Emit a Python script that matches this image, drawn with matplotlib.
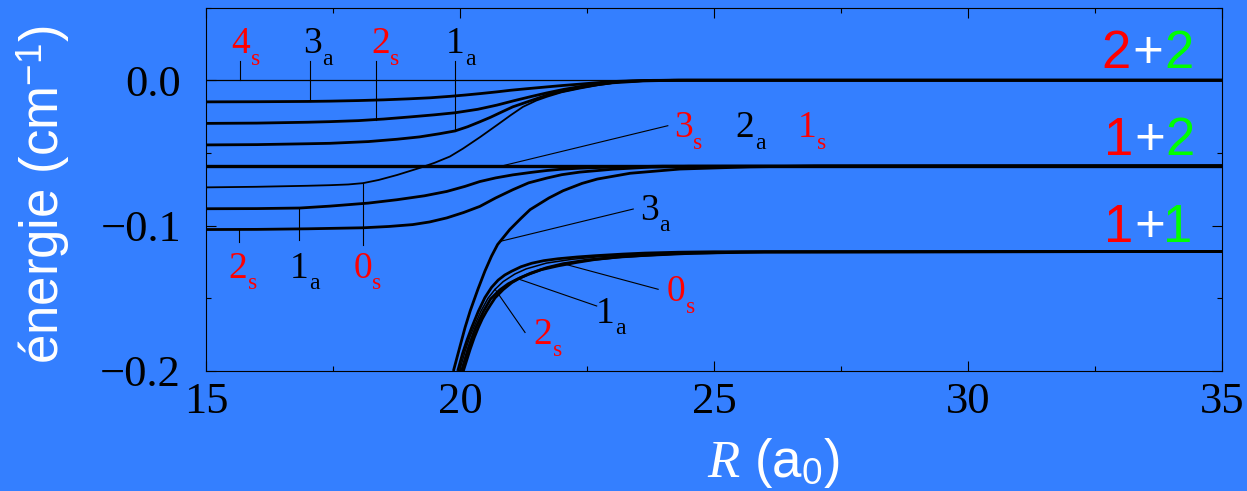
import numpy as np
import matplotlib
matplotlib.use("Agg")
import matplotlib.pyplot as plt
from matplotlib.ticker import MultipleLocator, FuncFormatter

BLUE = "#347fff"
RED = "#ff0000"
GREEN = "#00ff00"

# dissociation thresholds (cm^-1): 2+2, 1+2, 1+1
thresholds = [0.0, -0.0589, -0.1178]
r_span = [15.0, 35.0]

# states going to the 2+2 threshold
r_c1 = [15.0, 16.0, 17.0, 17.44, 18.0, 18.5, 19.0, 19.41, 19.8, 20.1, 20.4, 20.73,
        21.0, 21.3, 21.71, 22.0, 22.36, 22.7, 23.01, 23.4, 23.8, 24.5, 35.0]
e_c1 = [-0.0149, -0.0148, -0.0146, -0.0144, -0.0140, -0.0135, -0.0128, -0.0121,
        -0.0111, -0.0102, -0.0092, -0.0080, -0.0069, -0.0059, -0.0046, -0.0037,
        -0.0027, -0.0017, -0.0009, -0.0004, -0.0001, 0.0, 0.0]

r_c2 = [15.0, 16.0, 17.0, 17.44, 18.0, 18.5, 19.0, 19.5, 19.9, 20.35, 20.73, 21.05,
        21.38, 21.7, 22.03, 22.36, 22.7, 23.15, 23.6, 24.2, 35.0]
e_c2 = [-0.0297, -0.0295, -0.0289, -0.0285, -0.0278, -0.0267, -0.0253, -0.0238,
        -0.0224, -0.0200, -0.0171, -0.0142, -0.0114, -0.0088, -0.0064, -0.0044,
        -0.0027, -0.0010, -0.0003, 0.0, 0.0]

r_c3 = [15.0, 16.0, 17.0, 17.44, 18.2, 18.76, 19.2, 19.6, 19.9, 20.15, 20.39, 20.6,
        20.8, 21.04, 21.4, 21.71, 22.0, 22.36, 22.7, 23.0, 23.6, 24.3, 35.0]
e_c3 = [-0.0445, -0.0443, -0.0437, -0.0434, -0.0422, -0.0406, -0.0390, -0.0368,
        -0.0349, -0.0320, -0.0286, -0.0255, -0.0222, -0.0183, -0.0140, -0.0103,
        -0.0077, -0.0050, -0.0031, -0.0018, -0.0005, 0.0, 0.0]

r_c4 = [15.0, 16.0, 17.0, 17.44, 17.8, 18.09, 18.4, 18.76, 19.21, 19.5, 19.8, 20.06,
        20.4, 20.73, 21.0, 21.24, 21.5, 21.71, 22.0, 22.36, 22.7, 23.15, 23.8, 24.5, 35.0]
e_c4 = [-0.0737, -0.0733, -0.0726, -0.0722, -0.0717, -0.0708, -0.0686, -0.0652,
        -0.0603, -0.0568, -0.0525, -0.0470, -0.0390, -0.0308, -0.0240, -0.0183,
        -0.0140, -0.0114, -0.0083, -0.0057, -0.0035, -0.0012, -0.0002, 0.0, 0.0]

# states going to the 1+2 threshold
r_c5 = [15.0, 16.0, 16.85, 17.44, 18.2, 18.76, 19.3, 19.74, 20.1, 20.39, 20.7, 21.04,
        21.4, 21.71, 22.0, 22.36, 23.0, 24.0, 35.0]
e_c5 = [-0.0884, -0.0883, -0.0879, -0.0866, -0.0845, -0.0822, -0.0795, -0.0765,
        -0.0730, -0.0697, -0.0672, -0.0651, -0.0634, -0.0621, -0.0612, -0.0605,
        -0.0597, -0.0591, -0.0589]

r_c6 = [15.0, 16.0, 17.0, 18.09, 18.6, 19.07, 19.4, 19.74, 20.07, 20.39, 20.7, 21.04,
        21.35, 21.71, 22.0, 22.36, 23.01, 23.74, 24.5, 35.0]
e_c6 = [-0.1027, -0.1026, -0.1022, -0.1015, -0.1006, -0.0993, -0.0975, -0.0947,
        -0.0910, -0.0868, -0.0810, -0.0753, -0.0706, -0.0673, -0.0650, -0.0632,
        -0.0612, -0.0598, -0.0592, -0.0589]

r_c7 = [19.87, 20.0, 20.1, 20.2, 20.35, 20.49, 20.62, 20.74, 20.98, 21.2, 21.38,
        21.75, 22.03, 22.4, 22.7, 23.35, 24.33, 25.71, 27.0, 35.0]
e_c7 = [-0.2000, -0.1830, -0.1700, -0.1587, -0.1440, -0.1313, -0.1210, -0.1130,
        -0.1027, -0.0950, -0.0890, -0.0810, -0.0760, -0.0710, -0.0680, -0.0640,
        -0.0611, -0.0596, -0.0590, -0.0589]

# states going to the 1+1 threshold
r_a = [19.955, 20.05, 20.14, 20.23, 20.36, 20.49, 20.62, 20.75, 20.88, 21.02, 21.2,
       21.41, 21.65, 21.93, 22.3, 22.66, 23.2, 23.64, 24.3, 25.0, 35.0]
e_a = [-0.2000, -0.1880, -0.1785, -0.1701, -0.1590, -0.1495, -0.1425, -0.1375,
       -0.1340, -0.1313, -0.1283, -0.1259, -0.1241, -0.1228, -0.1216, -0.1207,
       -0.1196, -0.1189, -0.1183, -0.1180, -0.1178]

r_b = [19.99, 20.1, 20.19, 20.27, 20.41, 20.55, 20.69, 20.85, 21.08, 21.3, 21.7,
       22.2, 22.8, 23.7, 25.0, 35.0]
e_b = [-0.2000, -0.1865, -0.1770, -0.1701, -0.1590, -0.1500, -0.1438, -0.1385,
       -0.1333, -0.1298, -0.1258, -0.1232, -0.1212, -0.1195, -0.1182, -0.1178]

r_c = [20.03, 20.15, 20.23, 20.31, 20.46, 20.6, 20.78, 20.95, 21.14, 21.4, 21.7,
       22.03, 22.5, 23.2, 24.2, 25.5, 35.0]
e_c = [-0.2000, -0.1858, -0.1775, -0.1701, -0.1590, -0.1505, -0.1443, -0.1400,
       -0.1366, -0.1326, -0.1290, -0.1262, -0.1237, -0.1213, -0.1193, -0.1182, -0.1178]

r_d = [20.065, 20.2, 20.28, 20.36, 20.44, 20.52, 20.6, 20.69, 20.85, 21.02, 21.18,
       21.34, 21.6, 21.93, 22.3, 22.66, 23.1, 23.64, 24.6, 26.0, 35.0]
e_d = [-0.2000, -0.1850, -0.1770, -0.1701, -0.1640, -0.1590, -0.1545, -0.1497,
       -0.1440, -0.1392, -0.1360, -0.1336, -0.1303, -0.1277, -0.1253, -0.1233,
       -0.1217, -0.1205, -0.1190, -0.1181, -0.1178]

plt.rcParams["font.family"] = "Liberation Serif"
plt.rcParams["mathtext.fontset"] = "custom"
plt.rcParams["mathtext.rm"] = "Liberation Sans"
plt.rcParams["mathtext.it"] = "Liberation Serif:italic"

fig = plt.figure(figsize=(12.47, 4.91), dpi=100, facecolor=BLUE)
ax = fig.add_axes([0.1652, 0.2444, 0.8148, 0.7403])
ax.set_facecolor(BLUE)

ax.axhline(thresholds[0], color="k", lw=0.9)
ax.axhline(thresholds[1], color="k", lw=2.4)

for r, e in [(r_c1, e_c1), (r_c2, e_c2), (r_c3, e_c3), (r_c5, e_c5), (r_c6, e_c6),
             (r_c7, e_c7), (r_a, e_a), (r_c, e_c), (r_d, e_d)]:
    ax.plot(r, e, color="k", lw=2.0, solid_capstyle="butt")
ax.plot(r_c4, e_c4, color="k", lw=1.3)
ax.plot(r_b, e_b, color="k", lw=1.1)


def leader(r_curve, e_curve, r0, r1, e1):
    e0 = np.interp(r0, r_curve, e_curve)
    ax.plot([r0, r1], [e0, e1], color="k", lw=0.8)


def state(r, e, num, sym, color):
    ax.text(r, e, num, color=color, fontsize=27, ha="center", va="baseline")
    ax.annotate(sym, (r, e), xytext=(7, -8.5), textcoords="offset points",
                color=color, fontsize=17, ha="left", va="baseline")


def channel(e, chars, colors, rs):
    for ch, c, r in zip(chars, colors, rs):
        ax.text(r, e, ch, color=c, fontsize=38, family="Liberation Sans",
                ha="center", va="baseline")


# labels above the 2+2 group
leader(r_span, [thresholds[0]] * 2, 15.67, 15.67, 0.013)
leader(r_c1, e_c1, 17.05, 17.05, 0.013)
leader(r_c2, e_c2, 18.34, 18.34, 0.013)
leader(r_c3, e_c3, 19.90, 19.90, 0.013)
state(15.69, 0.0185, "4", "s", RED)
state(17.09, 0.0185, "3", "a", "k")
state(18.44, 0.0185, "2", "s", RED)
state(19.90, 0.0185, "1", "a", "k")

# labels below the left plateaus
leader(r_c6, e_c6, 15.64, 15.64, -0.1116)
leader(r_c5, e_c5, 16.84, 16.84, -0.1096)
leader(r_c4, e_c4, 18.10, 18.10, -0.1130)
state(15.63, -0.1358, "2", "s", RED)
state(16.83, -0.1358, "1", "a", "k")
state(18.08, -0.1358, "0", "s", RED)

# 1+2 threshold labels
leader(r_span, [thresholds[1]] * 2, 20.83, 24.09, -0.0313)
state(24.39, -0.0393, "3", "s", RED)
state(25.61, -0.0393, "2", "a", "k")
state(26.83, -0.0393, "1", "s", RED)
leader(r_c7, e_c7, 20.79, 23.41, -0.0886)
state(23.73, -0.0959, "3", "a", "k")

# 1+1 threshold labels
leader(r_c, e_c, 22.03, 23.90, -0.1438)
leader(r_c, e_c, 21.14, 22.69, -0.1553)
leader(r_b, e_b, 20.69, 21.28, -0.1735)
state(24.25, -0.1518, "0", "s", RED)
state(22.86, -0.1667, "1", "a", "k")
state(21.63, -0.1815, "2", "s", RED)

channel(0.0082, "2+2", [RED, "white", GREEN], [32.92, 33.54, 34.16])
channel(-0.0514, "1+2", [RED, "white", GREEN], [32.96, 33.58, 34.18])
channel(-0.1110, "1+1", [RED, "white", GREEN], [32.96, 33.58, 34.13])

ax.set_xlim(r_span)
ax.set_ylim(-0.2, 0.05)
ax.xaxis.set_major_locator(MultipleLocator(5))
ax.xaxis.set_minor_locator(MultipleLocator(2.5))
ax.yaxis.set_major_locator(MultipleLocator(0.1))
ax.yaxis.set_minor_locator(MultipleLocator(0.05))


def fmt(v, _):
    s = f"{v:.1f}"
    if s == "-0.0":
        s = "0.0"
    return s.replace("-", "\u2212")


ax.yaxis.set_major_formatter(FuncFormatter(fmt))
ax.tick_params(which="both", direction="in", top=True, right=True, width=0.8,
               colors="k")
ax.tick_params(which="major", length=7.2, labelsize=32)
ax.tick_params(which="minor", length=3.6)
ax.tick_params(axis="x", pad=8)
ax.tick_params(axis="y", pad=18)
for sp in ax.spines.values():
    sp.set_linewidth(0.8)

ax.set_xlabel("$R$ (a$_0$)", color="white", fontsize=38, family="Liberation Sans")
ax.xaxis.set_label_coords(0.558, -0.18)
ax.set_ylabel("énergie (cm$^{-1}$)", color="white", fontsize=38,
              family="Liberation Sans")
ax.yaxis.set_label_coords(-0.132, 0.484)

fig.savefig("out.png", dpi=100, facecolor=BLUE)
